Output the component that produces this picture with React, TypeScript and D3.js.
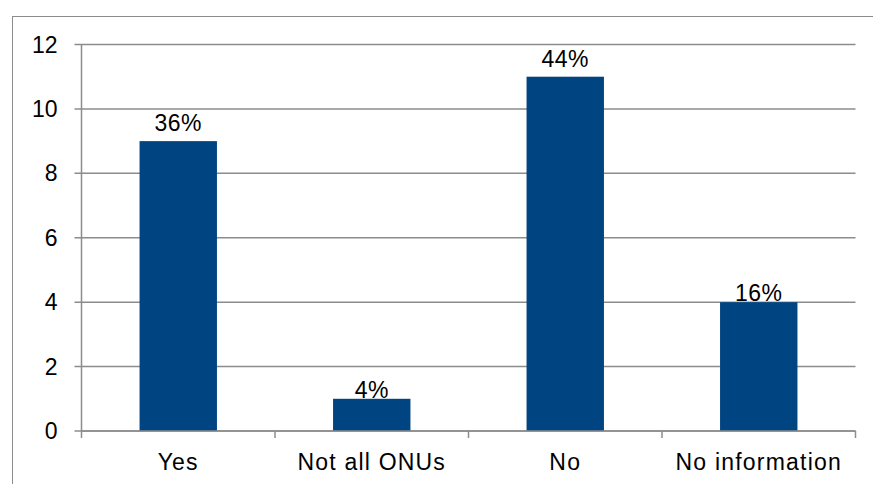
import React from "react";
import * as d3 from "d3";

const categories = ["Yes", "Not all ONUs", "No", "No information"];
const counts = [9, 1, 11, 4];
const shares = ["36%", "4%", "44%", "16%"];
const yTicks = [0, 2, 4, 6, 8, 10, 12];

const W = 873;
const H = 484;
const left = 81.5;
const right = 855.5;
const top = 44.5;
const bottom = 431;
// gap between each value label's baseline and its bar top
const labelGap = [10, 1, 10, 1.5];

export default function App() {
  const x = d3.scaleBand<string>().domain(categories).range([left, right]).paddingInner(0).paddingOuter(0);
  const y = d3.scaleLinear().domain([0, 12]).range([bottom, top]);
  const barW = x.bandwidth() * 0.4;
  const font = "'Liberation Sans', Arial, sans-serif";
  const grid = "#8c8c8c";

  return (
    <svg width={W} height={H} style={{ position: "absolute", left: 0, top: 0 }}>
      <rect x={0} y={0} width={W} height={H} fill="#fff" />
      <rect x={12.5} y={16.5} width={W + 10} height={H + 10} fill="none" stroke="#8c8c8c" strokeWidth={1} />
      {yTicks.map((t) => (
        <g key={t}>
          <line x1={left - 7} x2={right} y1={y(t)} y2={y(t)} stroke={grid} strokeWidth={1.5} />
          <text x={57.5} y={y(t)} dy="0.35em" textAnchor="end" fontFamily={font} fontSize={23} fill="#000">
            {t}
          </text>
        </g>
      ))}
      <line x1={left} x2={left} y1={top} y2={bottom} stroke={grid} strokeWidth={1.5} />
      {categories.map((c, i) => {
        const x0 = x(c)!;
        const cx = x0 + x.bandwidth() / 2;
        return (
          <g key={c}>
            <rect x={cx - barW / 2} y={y(counts[i])} width={barW} height={bottom - y(counts[i])} fill="#004582" />
            <text
              x={cx}
              y={y(counts[i]) - labelGap[i]}
              textAnchor="middle"
              fontFamily={font}
              fontSize={23}
              letterSpacing={0.5}
              fill="#000"
            >
              {shares[i]}
            </text>
            <text x={cx} y={470} textAnchor="middle" fontFamily={font} fontSize={23} letterSpacing={1.2} fill="#000">
              {c}
            </text>
          </g>
        );
      })}
      <line x1={left} x2={right} y1={bottom} y2={bottom} stroke={grid} strokeWidth={1.5} />
      {[...categories.map((c) => x(c)!), right].map((tx, i) => (
        <line key={i} x1={tx} x2={tx} y1={bottom} y2={bottom + 7} stroke={grid} strokeWidth={1.5} />
      ))}
    </svg>
  );
}
